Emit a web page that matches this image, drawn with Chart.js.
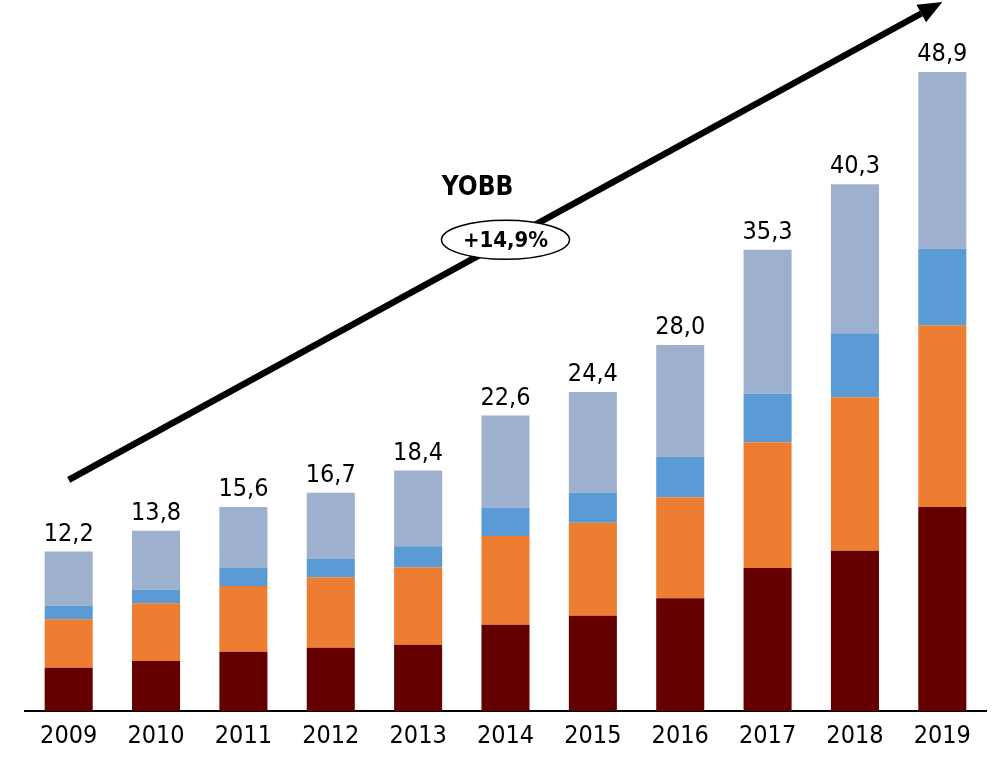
<!DOCTYPE html>
<html>
<head>
<meta charset="utf-8">
<script src="https://cdn.jsdelivr.net/npm/chart.js@4"></script>
<style>
  html, body { margin: 0; padding: 0; background: #fff; }
  #wrap { width: 1000px; height: 757px; position: relative; }
</style>
</head>
<body>
<div id="wrap"><canvas id="chart"></canvas></div>
<script>
const years = ['2009', '2010', '2011', '2012', '2013', '2014', '2015', '2016', '2017', '2018', '2019'];
const seg1 = [3.31, 3.83, 4.54, 4.84, 5.07, 6.60, 7.29, 8.62, 10.94, 12.27, 15.61];
const seg2 = [3.71, 4.41, 5.03, 5.39, 5.93, 6.79, 7.12, 7.73, 9.62, 11.74, 13.91];
const seg3 = [1.04, 1.04, 1.40, 1.40, 1.60, 2.17, 2.30, 3.11, 3.72, 4.89, 5.84];
const seg4 = [4.14, 4.52, 4.63, 5.07, 5.80, 7.04, 7.69, 8.54, 11.02, 11.40, 13.54];
const totals = [12.2, 13.8, 15.6, 16.7, 18.4, 22.6, 24.4, 28.0, 35.3, 40.3, 48.9];

const cagrTitle = 'YOBB';
const cagrText = '+14,9%';

const FONT = "'DejaVu Sans Condensed', 'DejaVu Sans', sans-serif";

// totals above each stack + the growth arrow with its label
const overlay = {
    id: 'overlay',
    afterDatasetsDraw(chart) {
        const ctx = chart.ctx;
        const x = chart.scales.x;
        const y = chart.scales.y;
        const top = chart.getDatasetMeta(chart.data.datasets.length - 1);

        ctx.save();
        ctx.fillStyle = '#000';
        ctx.font = '25px ' + FONT;
        ctx.textAlign = 'center';
        ctx.textBaseline = 'alphabetic';
        totals.forEach((t, i) => {
            const bar = top.data[i];
            ctx.fillText(t.toFixed(1).replace('.', ','), bar.x, bar.y - 11);
        });

        // arrow from first to last category
        const x0 = x.getPixelForValue(0), y0 = y.getPixelForValue(17.68);
        const x1 = x.getPixelForValue(10), y1 = y.getPixelForValue(54.25);
        const ang = Math.atan2(y1 - y0, x1 - x0);
        const headLen = 24, headW = 10;
        const bx = x1 - headLen * Math.cos(ang), by = y1 - headLen * Math.sin(ang);
        ctx.strokeStyle = '#000';
        ctx.lineWidth = 6.5;
        ctx.beginPath();
        ctx.moveTo(x0, y0);
        ctx.lineTo(bx, by);
        ctx.stroke();
        ctx.beginPath();
        ctx.moveTo(x1, y1);
        ctx.lineTo(bx + headW * Math.sin(ang), by - headW * Math.cos(ang));
        ctx.lineTo(bx - headW * Math.sin(ang), by + headW * Math.cos(ang));
        ctx.closePath();
        ctx.fill();

        // label
        ctx.font = 'bold 26px ' + FONT;
        ctx.textBaseline = 'middle';
        ctx.fillText(cagrTitle, x.getPixelForValue(4.68), y.getPixelForValue(40.0));

        const ex = x.getPixelForValue(5), ey = y.getPixelForValue(36.05);
        ctx.beginPath();
        ctx.ellipse(ex, ey, 64, 19.5, 0, 0, Math.PI * 2);
        ctx.fillStyle = '#fff';
        ctx.fill();
        ctx.lineWidth = 1.5;
        ctx.stroke();
        ctx.fillStyle = '#000';
        ctx.font = 'bold 22px ' + FONT;
        ctx.fillText(cagrText, ex, ey + 1);
        ctx.restore();
    }
};

const mkSet = (data, color) => ({
    data: data,
    backgroundColor: color,
    borderWidth: 0,
    barPercentage: 0.55,
    categoryPercentage: 1
});

new Chart(document.getElementById('chart').getContext('2d'), {
    type: 'bar',
    data: {
        labels: years,
        datasets: [
            mkSet(seg1, '#640000'),
            mkSet(seg2, '#ED7D31'),
            mkSet(seg3, '#5B9BD5'),
            mkSet(seg4, '#9DB0CE')
        ]
    },
    options: {
        responsive: true,
        maintainAspectRatio: false,
        animation: false,
        layout: { padding: { left: 25, right: 14, top: 0, bottom: 0 } },
        plugins: { legend: { display: false }, tooltip: { enabled: false } },
        scales: {
            x: {
                stacked: true,
                grid: { display: false, drawTicks: false },
                border: { display: true, color: '#000', width: 2 },
                ticks: { color: '#000', padding: 10, font: { family: FONT, size: 25 } },
                afterFit(scale) { scale.height = 46; }
            },
            y: {
                stacked: true,
                display: false,
                min: 0,
                max: 54.4
            }
        }
    },
    plugins: [overlay]
});
</script>
</body>
</html>
